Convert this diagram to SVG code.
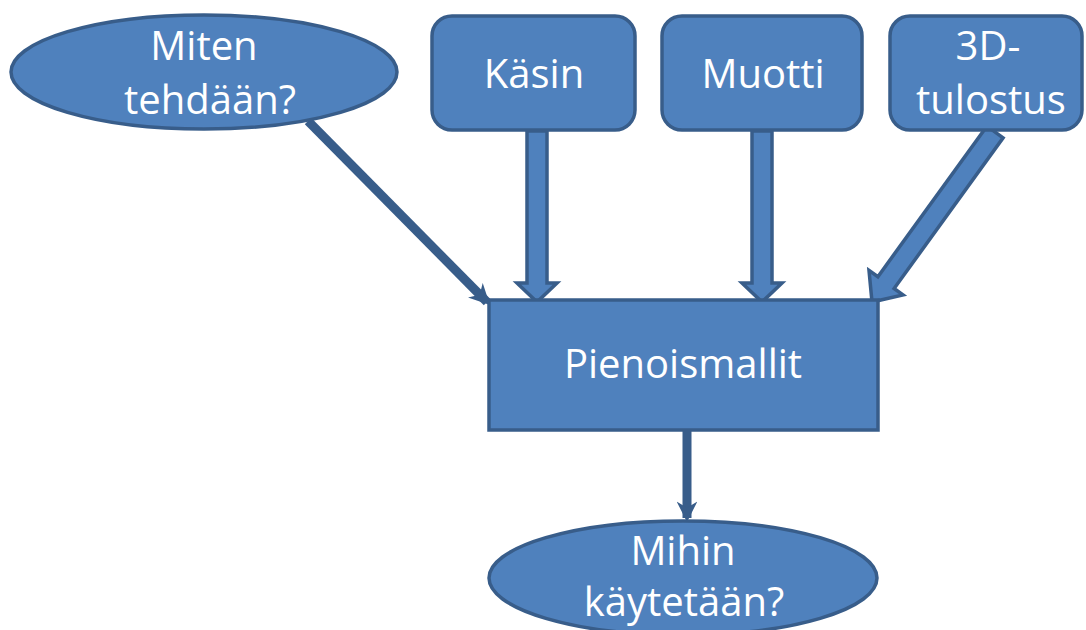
<svg xmlns="http://www.w3.org/2000/svg" width="1086" height="630" viewBox="0 0 1086 630">
<defs>
<style>
.node{fill:#4F81BD;stroke:#385D8A;stroke-width:3.5}
.lbl{font-family:"Open Sans","Liberation Sans",sans-serif;font-size:40px;fill:#FFFFFF;text-anchor:middle}
.blk{fill:#4F81BD;stroke:#385D8A;stroke-width:3.5;stroke-linejoin:miter}
.ln{stroke:#385D8A;stroke-width:9;fill:none}
</style>
<marker id="ah" viewBox="0 0 10 10" refX="8" refY="5" markerWidth="2.3" markerHeight="2.3" orient="auto" markerUnits="strokeWidth">
<path d="M0,0 L10,5 L0,10 L3,5 Z" fill="#385D8A"/>
</marker>
</defs>
<rect width="1086" height="630" fill="#FFFFFF"/>
<g id="connectors">
<line class="ln" x1="308" y1="121" x2="487" y2="302" marker-end="url(#ah)"/>
<polygon class="blk" points="527,131 547,131 547,283 557,283 537,302 517,283 527,283"/>
<polygon class="blk" points="752,131 772,131 772,283 782,283 762,302 742,283 752,283"/>
<polygon class="blk" points="986.9,126.1 1003.1,137.9 894.1,288.5 903,294.9 872,302 869,270.3 877.9,276.7"/>
<line class="ln" x1="687" y1="431" x2="687" y2="518" stroke-width="10" marker-end="url(#ah)"/>
</g>
<g id="miten">
<ellipse class="node" cx="204" cy="72" rx="193" ry="57"/>
<text class="lbl" x="204" y="60">Miten</text>
<text class="lbl" x="210" y="114">tehdään?</text>
</g>
<g id="kasin">
<rect class="node" x="432" y="16" width="203" height="114" rx="20"/>
<text class="lbl" x="534" y="88">Käsin</text>
</g>
<g id="muotti">
<rect class="node" x="662" y="16" width="200" height="114" rx="20"/>
<text class="lbl" x="763" y="88">Muotti</text>
</g>
<g id="tulostus">
<rect class="node" x="890" y="16" width="192" height="114" rx="20"/>
<text class="lbl" x="988" y="60">3D-</text>
<text class="lbl" x="991" y="114">tulostus</text>
</g>
<g id="pienoismallit">
<rect class="node" x="489" y="300" width="389" height="130"/>
<text class="lbl" x="683" y="378">Pienoismallit</text>
</g>
<g id="mihin">
<ellipse class="node" cx="683" cy="578" rx="194" ry="57"/>
<text class="lbl" x="683" y="565">Mihin</text>
<text class="lbl" x="684" y="616">käytetään?</text>
</g>
</svg>
